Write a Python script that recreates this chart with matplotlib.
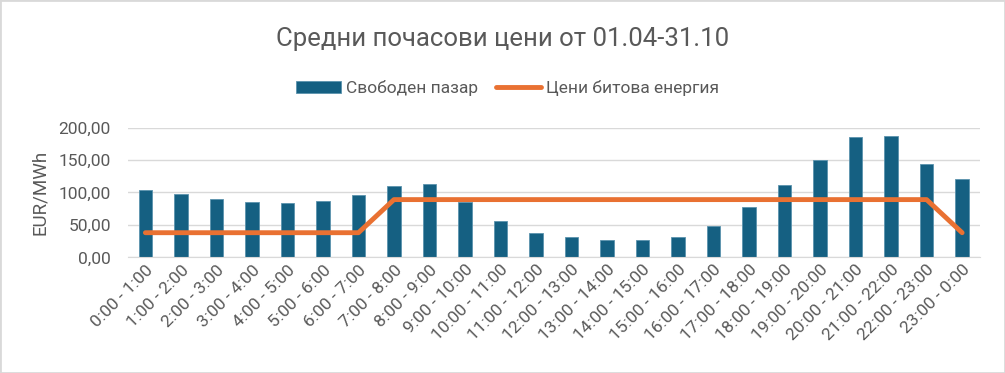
import matplotlib.pyplot as plt
from matplotlib.ticker import FuncFormatter

plt.rcParams['font.family'] = ['Roboto', 'DejaVu Sans']

hours = ["0:00 - 1:00", "1:00 - 2:00", "2:00 - 3:00", "3:00 - 4:00", "4:00 - 5:00",
         "5:00 - 6:00", "6:00 - 7:00", "7:00 - 8:00", "8:00 - 9:00", "9:00 - 10:00",
         "10:00 - 11:00", "11:00 - 12:00", "12:00 - 13:00", "13:00 - 14:00",
         "14:00 - 15:00", "15:00 - 16:00", "16:00 - 17:00", "17:00 - 18:00",
         "18:00 - 19:00", "19:00 - 20:00", "20:00 - 21:00", "21:00 - 22:00",
         "22:00 - 23:00", "23:00 - 0:00"]
free_market = [104.5, 98.3, 90.5, 85.9, 83.7, 87.4, 96.1, 110.7, 113.8, 86.0,
               55.3, 37.8, 31.6, 27.0, 27.0, 31.6, 49.1, 77.5, 112.2, 149.9,
               185.1, 186.6, 143.7, 121.5]
household = [38, 38, 38, 38, 38, 38, 38, 89, 89, 89, 89, 89, 89, 89, 89, 89,
             89, 89, 89, 89, 89, 89, 89, 38]

grey = "#595959"
fig = plt.figure(figsize=(10.05, 3.73), dpi=100)
ax = fig.add_axes([0.127, 0.31, 0.848, 0.348])

x = range(len(hours))
bars = ax.bar(x, free_market, width=0.38, color="#156082", edgecolor="#5b93ad",
              linewidth=0.6, label="Свободен пазар", zorder=2)
line, = ax.plot(x, household, color="#e97132", linewidth=3.5, solid_capstyle="round",
                solid_joinstyle="round", label="Цени битова енергия", zorder=3)

ax.set_xlim(-0.5, len(hours) - 0.5)
ax.set_ylim(0, 200)
ax.set_yticks([0, 50, 100, 150, 200])
ax.yaxis.set_major_formatter(FuncFormatter(lambda v, p: f"{v:.2f}".replace(".", ",")))
ax.grid(axis="y", color="#d9d9d9", linewidth=1, zorder=0)
for s in ["top", "right", "left"]:
    ax.spines[s].set_visible(False)
ax.spines["bottom"].set_color("#d9d9d9")
ax.tick_params(axis="both", length=0, colors=grey, labelsize=12.5)
ax.tick_params(axis="y", pad=12)
ax.set_xticks(list(x))
ax.set_xticklabels(hours, rotation=45, ha="right", rotation_mode="anchor")
ax.set_ylabel("EUR/MWh", color=grey, fontsize=13.5, labelpad=7)

fig.text(0.5, 0.895, "Средни почасови цени от 01.04-31.10", ha="center",
         va="center", fontsize=18.5, color=grey)
fig.legend([bars, line], ["Свободен пазар", "Цени битова енергия"],
           loc="center", bbox_to_anchor=(0.505, 0.765), ncol=2, frameon=False,
           fontsize=12.5, labelcolor=grey, handlelength=2.6, columnspacing=1.0,
           handletextpad=0.3)

fig.patches.append(plt.Rectangle((0, 0), 1, 1, transform=fig.transFigure,
                                 fill=False, edgecolor="#d9d9d9", linewidth=2))

plt.savefig("out.png", dpi=100)
